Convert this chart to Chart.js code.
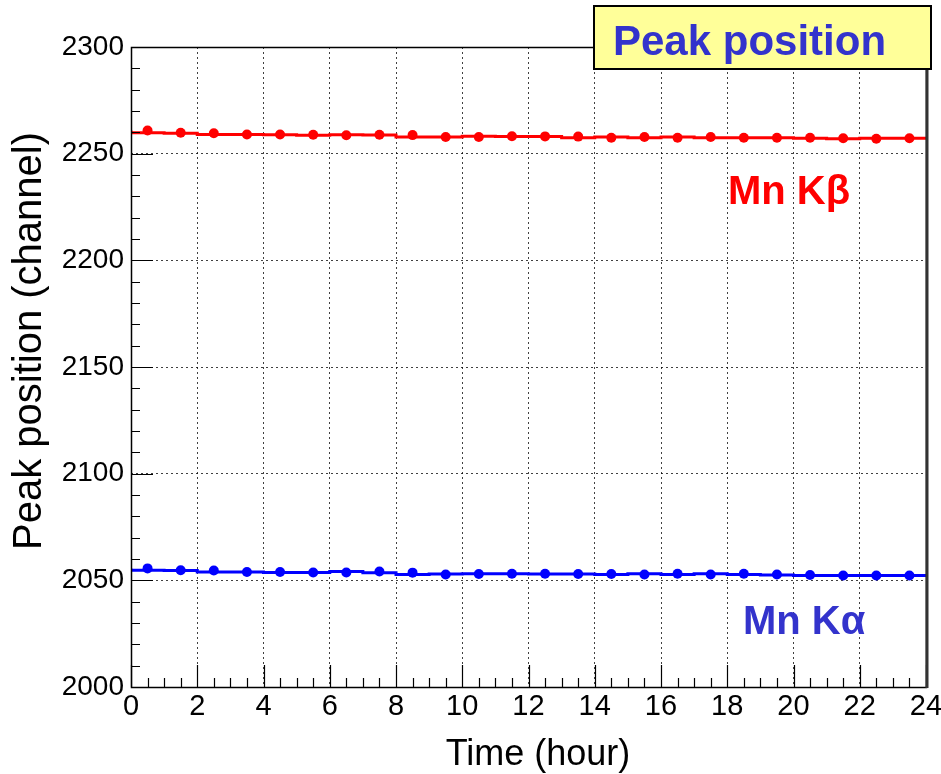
<!DOCTYPE html>
<html>
<head>
<meta charset="utf-8">
<title>Peak position</title>
<script src="https://cdn.jsdelivr.net/npm/chart.js@4.4.1/dist/chart.umd.min.js"></script>
<style>
    html, body { margin: 0; padding: 0; background: #fff; }
    #wrap { width: 941px; height: 774px; position: relative; }
</style>
</head>
<body>
<div id="wrap"><canvas id="peakChart"></canvas></div>
<script>
// hourly bins, 0..24 h
const hours = [0, 1, 2, 3, 4, 5, 6, 7, 8, 9, 10, 11, 12, 13, 14, 15, 16, 17, 18, 19, 20, 21, 22, 23];
const mnKbeta = [2260.9, 2259.8, 2259.6, 2259.0, 2259.0, 2258.9, 2258.6, 2258.9, 2258.7, 2257.8, 2257.8, 2258.2,
                 2258.1, 2258.0, 2257.5, 2257.8, 2257.5, 2257.8, 2257.5, 2257.5, 2257.5, 2257.2, 2257.0, 2257.2];
const mnKalpha = [2055.6, 2054.7, 2054.6, 2053.9, 2053.9, 2053.7, 2053.7, 2054.1, 2053.6, 2052.7, 2053.0, 2053.1,
                  2053.1, 2053.0, 2053.0, 2052.7, 2053.1, 2052.7, 2053.1, 2052.7, 2052.5, 2052.3, 2052.3, 2052.3];
const xTicks = [0, 2, 4, 6, 8, 10, 12, 14, 16, 18, 20, 22, 24];
const yTicks = [2000, 2050, 2100, 2150, 2200, 2250, 2300];

const FONT = '"Liberation Sans", Arial, Helvetica, sans-serif';

// histogram outline: bin i runs from hours[i] to hours[i]+1
function stepData(vals) {
    var pts = hours.map(function (h, i) { return { x: h, y: vals[i] }; });
    pts.push({ x: hours[hours.length - 1] + 1, y: vals[vals.length - 1] });
    return pts;
}

// markers sit at the bin centres
function centreData(vals) {
    return hours.map(function (h, i) { return { x: h + 0.5, y: vals[i] }; });
}

function stepSet(vals, color) {
    return {
        data: stepData(vals), showLine: true, stepped: 'after',
        borderColor: color, borderWidth: 3, pointRadius: 0, fill: false
    };
}

function markerSet(vals, color) {
    return {
        data: centreData(vals), showLine: false,
        backgroundColor: color, borderColor: color, pointRadius: 5, borderWidth: 0
    };
}

// ROOT style frame, inner ticks, titles and labels
const rootDecor = {
    id: 'rootDecor',
    afterDraw: function (chart) {
        var ctx = chart.ctx;
        var a = chart.chartArea;
        var xs = chart.scales.x, ys = chart.scales.y;
        ctx.save();

        // minor / major ticks
        ctx.strokeStyle = '#000';
        ctx.lineWidth = 1.2;
        ctx.beginPath();
        for (var t = 0; t <= 48; t++) {
            var px = Math.round(xs.getPixelForValue(t * 0.5)) + 0.5;
            var len = (t % 4 === 0) ? 22 : 9;
            ctx.moveTo(px, a.bottom);
            ctx.lineTo(px, a.bottom - len);
        }
        for (var v = 2000; v <= 2300; v += 10) {
            var py = Math.round(ys.getPixelForValue(v)) + 0.5;
            var ylen = (v % 50 === 0) ? 22 : 9;
            ctx.moveTo(a.left, py);
            ctx.lineTo(a.left + ylen, py);
        }
        ctx.stroke();

        // frame
        ctx.lineWidth = 1.5;
        ctx.strokeRect(a.left + 0.5, a.top + 0.5, a.right - a.left, a.bottom - a.top);
        ctx.strokeStyle = '#333';
        ctx.lineWidth = 3;
        ctx.beginPath();
        ctx.moveTo(a.right + 1, a.top);
        ctx.lineTo(a.right + 1, a.bottom + 1);
        ctx.stroke();

        // axis titles
        ctx.fillStyle = '#000';
        ctx.font = '36px ' + FONT;
        ctx.textAlign = 'center';
        ctx.textBaseline = 'alphabetic';
        ctx.fillText('Time (hour)', 538, 765);

        ctx.save();
        ctx.translate(41, 341);
        ctx.rotate(-Math.PI / 2);
        ctx.font = '40px ' + FONT;
        ctx.fillText('Peak position (channel)', 0, 0);
        ctx.restore();

        // line labels
        ctx.textAlign = 'left';
        ctx.font = 'bold 40px ' + FONT;
        ctx.fillStyle = '#ff0000';
        ctx.fillText('Mn K\u03b2', 728, 204);
        ctx.fillStyle = '#3333cc';
        ctx.fillText('Mn K\u03b1', 743, 634);

        // title box
        ctx.fillStyle = '#ffff99';
        ctx.fillRect(594, 6, 337, 63);
        ctx.strokeStyle = '#000';
        ctx.lineWidth = 2;
        ctx.strokeRect(594, 6, 337, 63);
        ctx.fillStyle = '#3333cc';
        ctx.font = 'bold 42px ' + FONT;
        ctx.fillText('Peak position', 613, 55);

        ctx.restore();
    }
};

new Chart(document.getElementById('peakChart'), {
    type: 'scatter',
    data: {
        datasets: [
            stepSet(mnKbeta, '#ff0000'),
            markerSet(mnKbeta, '#ff0000'),
            stepSet(mnKalpha, '#0000ff'),
            markerSet(mnKalpha, '#0000ff')
        ]
    },
    options: {
        responsive: true,
        maintainAspectRatio: false,
        animation: false,
        layout: { padding: { left: 0, top: 47, right: 15, bottom: 0 } },
        plugins: { legend: { display: false }, tooltip: { enabled: false } },
        scales: {
            x: {
                type: 'linear', min: 0, max: 24,
                afterBuildTicks: function (s) { s.ticks = xTicks.map(function (v) { return { value: v }; }); },
                afterFit: function (s) { s.height = 87; s.paddingLeft = 0; s.paddingRight = 0; },
                ticks: { font: { size: 29, family: FONT }, color: '#000', padding: 3, maxRotation: 0, autoSkip: false,
                         callback: function (v) { return String(v); } },
                grid: { color: 'rgba(0,0,0,0.75)', lineWidth: 1, drawTicks: false },
                border: { display: false, dash: [2, 3] }
            },
            y: {
                type: 'linear', min: 2000, max: 2300,
                afterBuildTicks: function (s) { s.ticks = yTicks.map(function (v) { return { value: v }; }); },
                afterFit: function (s) { s.width = 131; s.paddingTop = 0; s.paddingBottom = 0; },
                ticks: { font: { size: 28, family: FONT }, color: '#000', padding: 7, autoSkip: false,
                         callback: function (v) { return String(v); } },
                grid: { color: 'rgba(0,0,0,0.75)', lineWidth: 1, drawTicks: false },
                border: { display: false, dash: [2, 3] }
            }
        }
    },
    plugins: [rootDecor]
});
</script>
</body>
</html>
